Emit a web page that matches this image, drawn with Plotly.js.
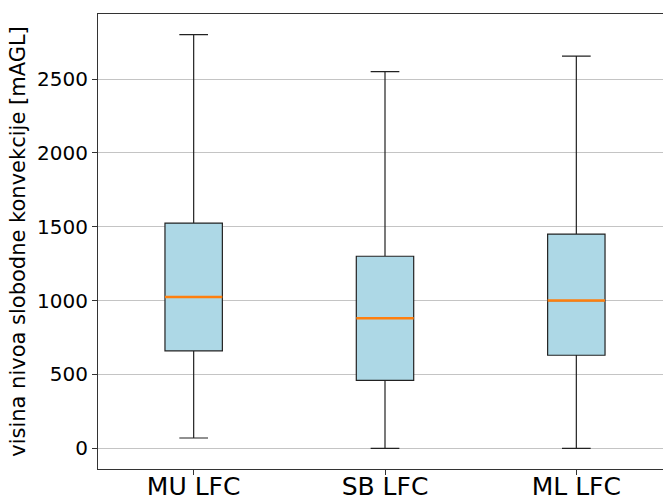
<!DOCTYPE html>
<html>
<head>
<meta charset="utf-8">
<script src="https://cdn.plot.ly/plotly-3.0.1.min.js"></script>
<style>html,body{margin:0;padding:0;background:#fff;}#chart{width:663px;height:497px;}</style>
</head>
<body>
<div id="chart"></div>
<script>
const categories = ["MU LFC", "SB LFC", "ML LFC"];
const positions = [1, 2, 3];
const lowerWhisker = [70, 0, 0];
const q1 = [660, 460, 630];
const medians = [1025, 880, 1000];
const q3 = [1525, 1300, 1450];
const upperWhisker = [2800, 2550, 2655];
const yTicks = [0, 500, 1000, 1500, 2000, 2500];

const boxWidth = 0.3;

const boxTrace = {
  type: 'box',
  x: positions,
  q1: q1,
  median: medians,
  q3: q3,
  lowerfence: lowerWhisker,
  upperfence: upperWhisker,
  width: boxWidth,
  whiskerwidth: 0.5,
  fillcolor: '#ADD8E6',
  line: {color: '#222', width: 1.2},
  boxpoints: false,
  hoverinfo: 'skip',
  showlegend: false
};

const mx = [], my = [];
positions.forEach((p, i) => {
  mx.push(p - boxWidth / 2, p + boxWidth / 2, null);
  my.push(medians[i], medians[i], null);
});
const medianTrace = {
  type: 'scatter', mode: 'lines', x: mx, y: my,
  line: {color: '#ff7f0e', width: 2.5},
  hoverinfo: 'skip', showlegend: false
};

const layout = {
  width: 663, height: 497,
  margin: {l: 98, r: 0, t: 14, b: 28, pad: 0},
  paper_bgcolor: '#fff', plot_bgcolor: '#fff',
  font: {family: 'DejaVu Sans', color: '#000'},
  xaxis: {
    range: [0.5, 3.453],
    tickvals: positions, ticktext: categories,
    tickfont: {size: 25, color: '#000'},
    ticks: 'outside', ticklen: 5, tickcolor: '#333', tickwidth: 1,
    ticklabelstandoff: -10,
    showgrid: false, zeroline: false,
    showline: true, mirror: true, linecolor: '#333', linewidth: 1
  },
  yaxis: {
    range: [-140, 2940],
    tickvals: yTicks,
    tickfont: {size: 20, color: '#000'},
    ticks: 'outside', ticklen: 5, tickcolor: '#333', tickwidth: 1,
    showgrid: true, gridcolor: '#c4c4c4', gridwidth: 1,
    zeroline: false,
    showline: true, linecolor: '#333', linewidth: 1,
    title: {text: 'visina nivoa slobodne konvekcije [mAGL]', font: {size: 21, color: '#000'}, standoff: 5}
  }
};

Plotly.newPlot('chart', [boxTrace, medianTrace], layout, {displayModeBar: false, staticPlot: true});
</script>
</body>
</html>
